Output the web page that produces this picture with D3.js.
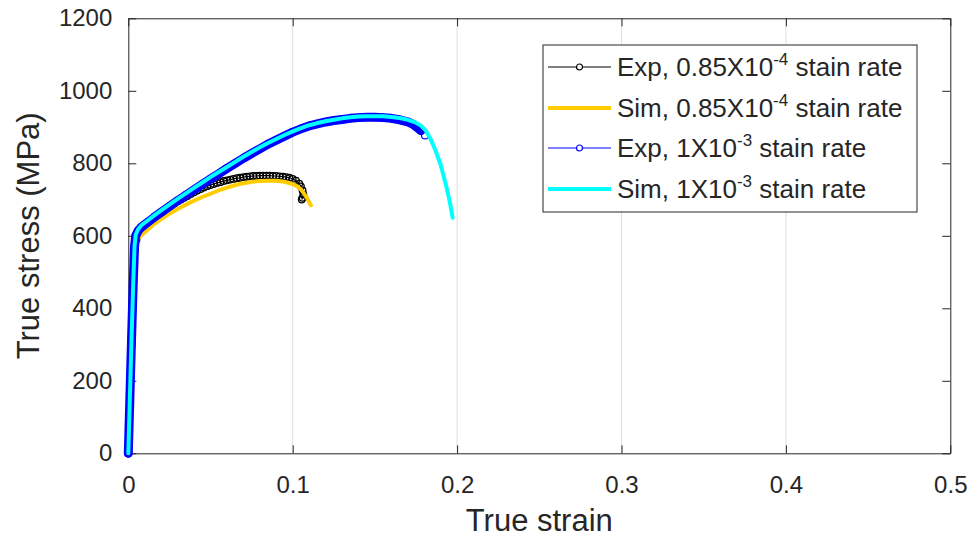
<!DOCTYPE html>
<html>
<head>
<meta charset="utf-8">
<script src="https://cdn.jsdelivr.net/npm/d3@7"></script>
<style>
  html, body { margin: 0; padding: 0; background: #fff; }
  svg text { font-family: "Liberation Sans", Arial, Helvetica, sans-serif; fill: #262626; }
</style>
</head>
<body>
<svg id="chart" width="976" height="541"></svg>
<script>
// Tensile test, true stress vs true strain at two strain rates

// Experiment, 0.85e-4 strain rate
const expSlowStrain = [0, 0.001, 0.002, 0.003, 0.004, 0.005, 0.006, 0.008, 0.010, 0.012, 0.014, 0.016, 0.018, 0.020,
  0.022, 0.024, 0.026, 0.028, 0.030, 0.032, 0.034, 0.036, 0.038, 0.040, 0.042, 0.044, 0.046, 0.048, 0.050,
  0.052, 0.054, 0.056, 0.058, 0.060, 0.062, 0.064, 0.066, 0.068, 0.070, 0.072, 0.074, 0.076, 0.078, 0.080,
  0.082, 0.084, 0.086, 0.088, 0.090, 0.092, 0.094, 0.096, 0.098, 0.100, 0.102, 0.104, 0.105, 0.106, 0.1065,
  0.106, 0.1055];
const expSlowStress = [0, 150, 300, 450, 560, 590, 603, 614, 624, 632, 640, 648, 655, 662,
  669, 676, 683, 689, 695, 700, 705, 710, 715, 720, 725, 729, 733, 737, 740,
  743, 746, 748, 751, 753, 755, 757, 759, 760, 762, 763, 764, 765, 765, 766,
  766, 766, 766, 765, 765, 764, 763, 762, 760, 757, 752, 744, 736, 725, 714,
  705, 700];

// Simulation, 0.85e-4 strain rate
const simSlowStrain = [0, 0.001, 0.002, 0.003, 0.004, 0.005, 0.007, 0.010, 0.015, 0.020, 0.025, 0.030, 0.035,
  0.040, 0.045, 0.050, 0.055, 0.060, 0.065, 0.070, 0.075, 0.080, 0.085, 0.090, 0.095, 0.100, 0.103, 0.105,
  0.107, 0.109, 0.1115];
const simSlowStress = [0, 160, 320, 470, 560, 585, 598, 610, 630, 646, 661, 674, 686,
  697, 707, 716, 725, 733, 740, 745, 749, 751, 752, 752, 749, 743, 736, 728,
  716, 702, 680];

// Experiment, 1e-3 strain rate
const expFastStrain = [0, 0.001, 0.002, 0.003, 0.0038, 0.0045, 0.006, 0.008, 0.012, 0.016, 0.020, 0.025, 0.030,
  0.035, 0.040, 0.045, 0.050, 0.055, 0.060, 0.065, 0.070, 0.075, 0.080, 0.085, 0.090, 0.095, 0.100, 0.105,
  0.110, 0.115, 0.120, 0.125, 0.130, 0.135, 0.140, 0.145, 0.150, 0.155, 0.160, 0.165, 0.170, 0.173, 0.176,
  0.178, 0.1805];
const expFastStress = [0, 160, 320, 470, 570, 600, 614, 624, 638, 652, 665, 681, 697,
  712, 727, 742, 757, 771, 786, 800, 814, 827, 840, 853, 864, 875, 886, 895,
  903, 909, 914, 918, 921, 924, 926, 927, 927, 926, 924, 920, 914, 908, 898,
  890, 877];

// Simulation, 1e-3 strain rate
const simFastStrain = [0, 0.001, 0.002, 0.003, 0.0038, 0.0045, 0.006, 0.008, 0.012, 0.016, 0.020, 0.025, 0.030,
  0.035, 0.040, 0.045, 0.050, 0.055, 0.060, 0.065, 0.070, 0.075, 0.080, 0.085, 0.090, 0.095, 0.100, 0.105,
  0.110, 0.115, 0.120, 0.125, 0.130, 0.135, 0.140, 0.145, 0.150, 0.155, 0.160, 0.165, 0.170, 0.175, 0.178,
  0.181, 0.184, 0.187, 0.190, 0.1935, 0.1955, 0.1973];
const simFastStress = [0, 160, 320, 470, 572, 603, 618, 629, 643, 657, 670, 686, 702,
  717, 732, 747, 762, 776, 790, 804, 818, 831, 844, 856, 867, 878, 888, 897,
  905, 911, 916, 920, 924, 927, 929, 930, 930, 930, 928, 925, 920, 912, 904,
  890, 866, 834, 796, 735, 695, 650];

const xTicks = [0, 0.1, 0.2, 0.3, 0.4, 0.5];
const yTicks = [0, 200, 400, 600, 800, 1000, 1200];

const legendLabels = [
  { base: "Exp, 0.85X10", sup: "-4", rest: " stain rate" },
  { base: "Sim, 0.85X10", sup: "-4", rest: " stain rate" },
  { base: "Exp, 1X10", sup: "-3", rest: " stain rate" },
  { base: "Sim, 1X10", sup: "-3", rest: " stain rate" }
];

const ink = "#262626";
const colBlack = "#000000";
const colYellow = "#FFCC00";
const colBlue = "#0000FF";
const colCyan = "#00FFFF";

const svg = d3.select("#chart");
const margin = { left: 128.3, right: 976 - 950.3, top: 18.3, bottom: 541 - 453.3 };
const W = 976 - margin.left - margin.right;
const H = 541 - margin.top - margin.bottom;

const x = d3.scaleLinear().domain([0, 0.5]).range([0, W]);
const y = d3.scaleLinear().domain([0, 1200]).range([H, 0]);

const g = svg.append("g").attr("transform", `translate(${margin.left},${margin.top})`);

// vertical grid
g.append("g").selectAll("line").data(xTicks.slice(1, -1)).join("line")
  .attr("x1", d => x(d)).attr("x2", d => x(d))
  .attr("y1", 0).attr("y2", H)
  .attr("stroke", "#dedede").attr("stroke-width", 1);

// axes with inward ticks on all four sides
const tickLen = 8;
const axB = g.append("g").attr("transform", `translate(0,${H})`)
  .call(d3.axisBottom(x).tickValues(xTicks).tickSizeInner(-tickLen).tickSizeOuter(0).tickPadding(23).tickFormat(d3.format("")));
const axL = g.append("g")
  .call(d3.axisLeft(y).tickValues(yTicks).tickSizeInner(-tickLen).tickSizeOuter(0).tickPadding(16).tickFormat(d3.format("")));
const axT = g.append("g")
  .call(d3.axisTop(x).tickValues(xTicks).tickSizeInner(-tickLen).tickSizeOuter(0).tickFormat(""));
const axR = g.append("g").attr("transform", `translate(${W},0)`)
  .call(d3.axisRight(y).tickValues(yTicks).tickSizeInner(-tickLen).tickSizeOuter(0).tickFormat(""));

[axB, axL, axT, axR].forEach(a => {
  a.select(".domain").attr("stroke", ink).attr("stroke-width", 1);
  a.selectAll(".tick line").attr("stroke", ink);
  a.selectAll(".tick text").style("font-size", "24px").attr("fill", ink)
    .style("font-family", "'Liberation Sans', Arial, sans-serif");
});

// curves
const line = (xs, ys) => d3.line().x((d, i) => x(xs[i])).y((d, i) => y(ys[i]))(ys);

const plot = g.append("g");

// Exp 0.85e-4: thin line with dense hollow circle markers
plot.append("path").attr("d", line(expSlowStrain, expSlowStress))
  .attr("fill", "none").attr("stroke", colBlack).attr("stroke-width", 1.2);
plot.append("g").selectAll("circle").data(expSlowStress).join("circle")
  .attr("cx", (d, i) => x(expSlowStrain[i])).attr("cy", d => y(d))
  .attr("r", 3.3).attr("fill", "none").attr("stroke", colBlack).attr("stroke-width", 1.3);

// Sim 0.85e-4
plot.append("path").attr("d", line(simSlowStrain, simSlowStress))
  .attr("fill", "none").attr("stroke", colYellow).attr("stroke-width", 4)
  .attr("stroke-linejoin", "round");

// Exp 1e-3: markers are packed so tightly they read as a wide band
plot.append("g").selectAll("circle").data(expFastStress).join("circle")
  .attr("cx", (d, i) => x(expFastStrain[i])).attr("cy", d => y(d))
  .attr("r", 3.5).attr("fill", "#fff").attr("stroke", colBlue).attr("stroke-width", 1.2);
plot.append("path").attr("d", line(expFastStrain.slice(0, -1), expFastStress.slice(0, -1)))
  .attr("fill", "none").attr("stroke", colBlue).attr("stroke-width", 9)
  .attr("stroke-linejoin", "round").attr("stroke-linecap", "round");

// Sim 1e-3
plot.append("path").attr("d", line(simFastStrain, simFastStress))
  .attr("fill", "none").attr("stroke", colCyan).attr("stroke-width", 4)
  .attr("stroke-linejoin", "round").attr("stroke-linecap", "round");

// legend
const lg = svg.append("g").attr("transform", "translate(543,45)");
lg.append("rect").attr("x", 0).attr("y", 0).attr("width", 374).attr("height", 167)
  .attr("fill", "#fff").attr("stroke", ink).attr("stroke-width", 1);

const legendStyles = [
  { color: colBlack, width: 1, marker: true },
  { color: colYellow, width: 4, marker: false },
  { color: colBlue, width: 1, marker: true },
  { color: colCyan, width: 4, marker: false }
];
const rowY = [22, 63, 103, 144];

legendLabels.forEach((lab, i) => {
  const st = legendStyles[i];
  const row = lg.append("g").attr("transform", `translate(0,${rowY[i]})`);
  row.append("line").attr("x1", 5).attr("x2", 68).attr("y1", 0).attr("y2", 0)
    .attr("stroke", st.color).attr("stroke-width", st.width);
  if (st.marker) {
    row.append("circle").attr("cx", 36.5).attr("cy", 0).attr("r", 3)
      .attr("fill", "#fff").attr("stroke", st.color).attr("stroke-width", 1.2);
  }
  const t = row.append("text").attr("x", 74).attr("y", 9).style("font-size", "26px");
  t.append("tspan").text(lab.base);
  t.append("tspan").attr("dy", -11).style("font-size", "17px").text(lab.sup);
  t.append("tspan").attr("dy", 11).text(lab.rest);
});

// axis labels
svg.append("text").attr("x", margin.left + W / 2).attr("y", 531)
  .attr("text-anchor", "middle").style("font-size", "31px").text("True strain");
svg.append("text").attr("transform", `translate(39,${margin.top + H / 2}) rotate(-90)`)
  .attr("text-anchor", "middle").style("font-size", "31px").text("True stress (MPa)");
</script>
</body>
</html>
